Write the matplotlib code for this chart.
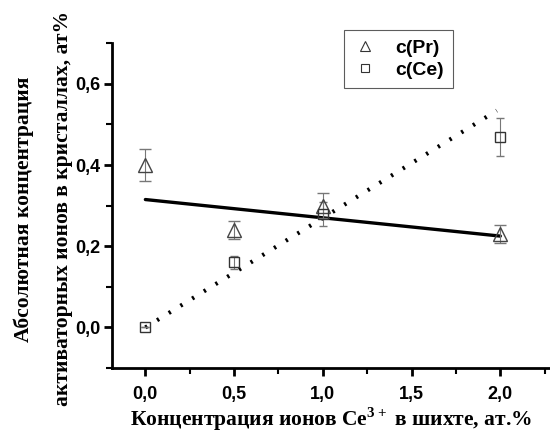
import matplotlib
matplotlib.use("Agg")
import matplotlib.pyplot as plt
from matplotlib.ticker import MultipleLocator, FuncFormatter

plt.rcParams['mathtext.fontset'] = 'custom'
plt.rcParams['mathtext.rm'] = 'Liberation Serif:bold'
plt.rcParams['mathtext.bf'] = 'Liberation Serif:bold'

# data
x_pts = [0.0, 0.5, 1.0, 2.0]
c_pr = [0.40, 0.24, 0.30, 0.23]
c_pr_err = [0.04, 0.022, 0.03, 0.022]
c_ce = [0.0, 0.16, 0.28, 0.47]
c_ce_err = [0.0, 0.016, 0.03, 0.047]

fit_x = [0.0, 2.0]
fit_pr = [0.315, 0.225]
fit_ce_x = [0.0, 1.98]
fit_ce = [0.0, 0.534]

fig = plt.figure(figsize=(5.5, 4.32), dpi=100)
ax = fig.add_axes([0.203, 0.148, 0.797, 0.752])

ax.plot(fit_x, fit_pr, color='black', lw=2.4, solid_capstyle='round', zorder=2)
ax.plot(fit_ce_x, fit_ce, color='black', lw=3.0, linestyle=(0, (0.55, 2.75)), zorder=2)

ax.errorbar(x_pts, c_pr, yerr=c_pr_err, fmt='^', ms=10, mfc='none', mec='#444444', mew=1.0,
            ecolor='#777777', elinewidth=0.8, capsize=4, capthick=0.8, zorder=3)
ax.errorbar(x_pts, c_ce, yerr=c_ce_err, fmt='s', ms=7, mfc='none', mec='#333333', mew=1.0,
            ecolor='#777777', elinewidth=0.8, capsize=3, capthick=0.8, zorder=3)

# legend proxies
h1, = ax.plot([], [], '^', ms=7, mfc='none', mec='#333333', mew=0.8, ls='none')
h2, = ax.plot([], [], 's', ms=5.5, mfc='none', mec='#333333', mew=0.8, ls='none')
leg = ax.legend([h1, h2], ['c(Pr)', 'c(Ce)'], loc='upper left', bbox_to_anchor=(0.53, 1.04),
                prop={'family': 'Liberation Sans', 'weight': 'bold', 'size': 14},
                frameon=True, fancybox=False, edgecolor='#333333', borderpad=0.45,
                handletextpad=0.9, labelspacing=0.25, handlelength=1.3, borderaxespad=0)
leg.get_frame().set_linewidth(0.8)

ax.set_xlim(-0.19, 2.28)
ax.set_ylim(-0.1, 0.7)
ax.xaxis.set_major_locator(MultipleLocator(0.5))
ax.xaxis.set_minor_locator(MultipleLocator(0.25))
ax.yaxis.set_major_locator(MultipleLocator(0.2))
ax.yaxis.set_minor_locator(MultipleLocator(0.1))
comma = FuncFormatter(lambda v, p: ('%.1f' % v).replace('.', ','))
ax.xaxis.set_major_formatter(comma)
ax.yaxis.set_major_formatter(comma)
ax.set_xticks([0.0, 0.5, 1.0, 1.5, 2.0])
ax.set_yticks([0.0, 0.2, 0.4, 0.6])

for s in ['top', 'right']:
    ax.spines[s].set_visible(False)
for s in ['left', 'bottom']:
    ax.spines[s].set_linewidth(2.0)
ax.tick_params(which='major', direction='out', length=6, width=2.0)
ax.tick_params(axis='x', which='major', pad=7)
ax.tick_params(axis='y', which='major', pad=2)
ax.tick_params(which='minor', direction='out', length=4, width=1.5)
for lbl in ax.get_xticklabels() + ax.get_yticklabels():
    lbl.set_fontfamily('Liberation Sans')
    lbl.set_fontweight('bold')
    lbl.set_fontsize(13)

ax.set_xlabel(r'Концентрация ионов Ce$^{\mathrm{3+}}$ в шихте, ат.%',
              family='Liberation Serif', weight='bold', fontsize=15.5)
ax.xaxis.set_label_coords(0.5, -0.114)
ax.set_ylabel('Абсолютная концентрация\nактиваторных ионов в кристаллах, ат%',
              family='Liberation Serif', weight='bold', fontsize=15.5,
              linespacing=2.3)
ax.yaxis.set_label_coords(-0.088, 0.49)

fig.savefig('out.png', dpi=100)
